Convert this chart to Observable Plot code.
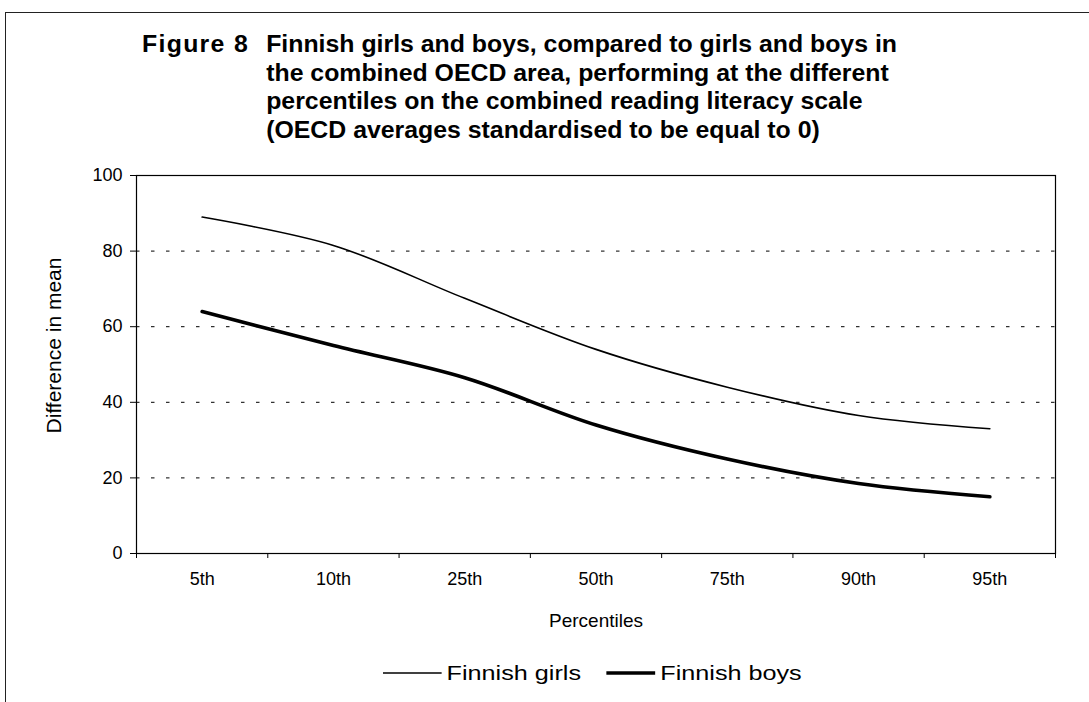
<!DOCTYPE html>
<html>
<head>
<meta charset="utf-8">
<script src="https://cdn.jsdelivr.net/npm/d3@7"></script>
<script src="https://cdn.jsdelivr.net/npm/@observablehq/plot@0.6"></script>
<style>
  html, body { margin: 0; padding: 0; background: #fff; }
  #page { position: relative; width: 1089px; height: 702px; overflow: hidden; background: #fff;
          font-family: "Liberation Sans", Arial, Helvetica, sans-serif; color: #000; }
  #border { position: absolute; left: 5px; top: 12px; width: 1100px; height: 720px; z-index: 5;
            border-left: 1.5px solid #222; border-top: 1.5px solid #222; pointer-events: none; }
  #title { position: absolute; left: 142px; top: 30px; font-weight: bold; font-size: 23px; line-height: 28.5px;
           display: flex; transform: scaleX(1.08); transform-origin: 0 0; white-space: nowrap; }
  #title .fig { width: 115px; flex: none; letter-spacing: 1.2px; }
  #chart { position: absolute; left: 0; top: 160px; }
  #legend { position: absolute; top: 660px; left: 383px; display: flex; align-items: center;
            font-size: 21px; line-height: 26px; transform: scaleX(1.2); transform-origin: 0 0; white-space: nowrap; }
  #legend .item { display: flex; align-items: center; }
  #legend svg { display: block; }
</style>
</head>
<body>
<div id="page">
  <div id="border"></div>
  <div id="title">
    <div class="fig">Figure 8</div>
    <div>Finnish girls and boys, compared to girls and boys in<br>the combined OECD area, performing at the different<br>percentiles on the combined reading literacy scale<br>(OECD averages standardised to be equal to 0)</div>
  </div>
  <div id="chart"></div>
  <div id="legend"></div>
</div>
<script>
// ---- Data ----
const percentiles = ["5th", "10th", "25th", "50th", "75th", "90th", "95th"];
const girls = [89, 81.5, 67.5, 54, 44, 36.5, 33];
const boys = [64, 55, 46.5, 34, 25, 18.5, 15];
const seriesNames = ["Finnish girls", "Finnish boys"];
const yTicks = [0, 20, 40, 60, 80, 100];
const gridTicks = [20, 40, 60, 80];
const xLabel = "Percentiles";
const yLabel = "Difference in mean";

const rows = [];
percentiles.forEach((p, i) => {
  rows.push({series: seriesNames[0], p, i, value: girls[i]});
  rows.push({series: seriesNames[1], p, i, value: boys[i]});
});

const widths = {"Finnish girls": 1.6, "Finnish boys": 3.6};
const font = '"Liberation Sans", Arial, Helvetica, sans-serif';

const plot = Plot.plot({
  width: 1089,
  height: 480,
  marginLeft: 136,
  marginRight: 34,
  marginTop: 15,
  marginBottom: 87,
  style: {fontFamily: font, fontSize: "18px", color: "#000", background: "transparent", overflow: "visible"},
  x: {type: "linear", domain: [0, percentiles.length]},
  y: {domain: [0, 100]},
  marks: [
    Plot.gridY(gridTicks, {stroke: "#000", strokeOpacity: 1, strokeWidth: 1, strokeDasharray: "3.5,11.5"}),
    Plot.frame({stroke: "#000", strokeWidth: 1.2}),
    Plot.axisY(yTicks, {tickSize: 6, tickPadding: 8, fontSize: 18, label: null}),
    Plot.axisX(d3.range(0, percentiles.length + 1), {tickSize: 5, tickFormat: () => "", label: null}),
    Plot.axisX(percentiles.map((_, i) => i + 0.5), {tickSize: 0, tickPadding: 19, fontSize: 18,
      tickFormat: d => percentiles[Math.round(d - 0.5)], label: null}),
    Plot.text([xLabel], {frameAnchor: "bottom", textAnchor: "middle", lineAnchor: "middle", dy: 67, fontSize: 19, text: d => d}),
    Plot.text([yLabel], {frameAnchor: "left", textAnchor: "middle", lineAnchor: "middle", dx: -82, dy: -19, rotate: -90, fontSize: 21, text: d => d}),
    ...seriesNames.map(s => Plot.line(rows.filter(r => r.series === s), {
      x: d => d.i + 0.5, y: "value", stroke: "#000", strokeWidth: widths[s], curve: "catmull-rom"
    }))
  ]
});
document.getElementById("chart").appendChild(plot);

// Legend (pre-scale sizes; the container is stretched horizontally)
const legend = document.getElementById("legend");
const swatchLen = [49, 41];
const gapAfter = [21, 0];
seriesNames.forEach((s, k) => {
  const item = document.createElement("div");
  item.className = "item";
  item.style.marginRight = gapAfter[k] + "px";
  item.innerHTML = `<svg width="${swatchLen[k]}" height="10"><line x1="0" x2="${swatchLen[k]}" y1="5" y2="5" stroke="#000" stroke-width="${widths[s]}"/></svg><span style="margin-left:4px">${s}</span>`;
  legend.appendChild(item);
});
</script>
</body>
</html>
